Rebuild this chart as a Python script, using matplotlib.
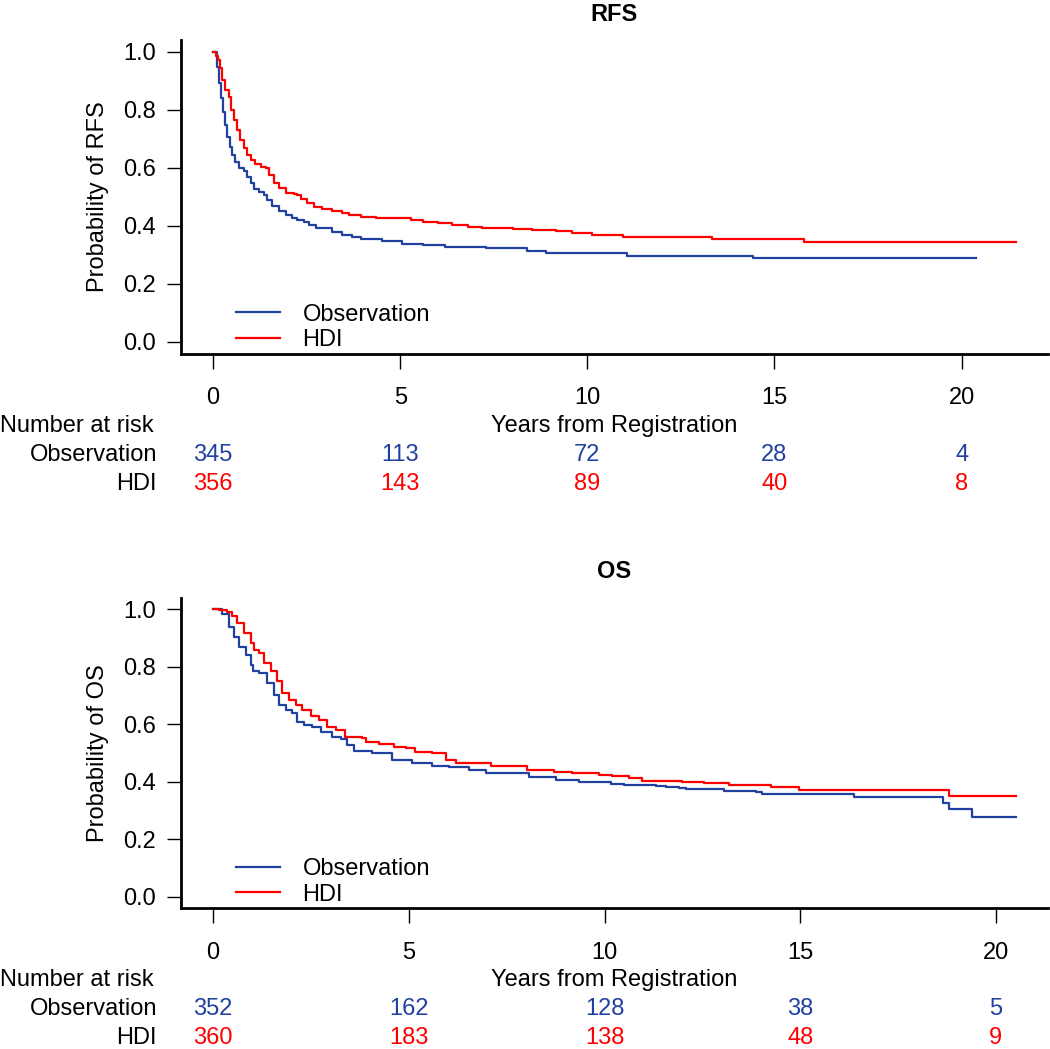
import matplotlib
matplotlib.use("Agg")
import matplotlib.pyplot as plt
import matplotlib.transforms as mtransforms

plt.rcParams['font.family'] = ['Liberation Sans', 'DejaVu Sans']

BLUE = "#2141A0"
RED = "#FF0000"

groups = ["Observation", "HDI"]
xticks = [0, 5, 10, 15, 20]
yticks = [0.0, 0.2, 0.4, 0.6, 0.8, 1.0]
ytick_labels = ["0.0", "0.2", "0.4", "0.6", "0.8", "1.0"]

# ---------- RFS ----------
rfs_obs_t = [0, 0.11, 0.17, 0.22, 0.27, 0.31, 0.37, 0.44, 0.51, 0.58, 0.69, 0.82, 0.91,
             1.0, 1.09, 1.22, 1.36, 1.44, 1.58, 1.76, 1.94, 2.11, 2.25, 2.43, 2.56, 2.74,
             3.18, 3.45, 3.72, 3.94, 4.5, 5.06, 5.6, 6.2, 7.3, 8.4, 8.9, 11.07, 14.43, 20.39]
rfs_obs_s = [1.0, 0.949, 0.892, 0.840, 0.794, 0.748, 0.708, 0.674, 0.645, 0.622, 0.599,
             0.591, 0.570, 0.547, 0.527, 0.518, 0.507, 0.490, 0.470, 0.453, 0.438, 0.426,
             0.421, 0.415, 0.403, 0.392, 0.380, 0.369, 0.361, 0.355, 0.349, 0.337, 0.333,
             0.328, 0.325, 0.315, 0.308, 0.298, 0.289, 0.289]
rfs_hdi_t = [0, 0.08, 0.13, 0.18, 0.24, 0.33, 0.42, 0.49, 0.55, 0.64, 0.73, 0.82, 0.91,
             1.0, 1.13, 1.27, 1.4, 1.49, 1.62, 1.76, 1.94, 2.16, 2.25, 2.34, 2.51, 2.69,
             2.91, 3.18, 3.45, 3.63, 3.94, 4.34, 5.3, 5.6, 6.0, 6.39, 6.8, 7.19, 8.0, 8.53,
             9.15, 9.6, 10.13, 10.94, 13.34, 15.78, 21.45]
rfs_hdi_s = [1.0, 0.986, 0.972, 0.944, 0.903, 0.869, 0.846, 0.80, 0.766, 0.731, 0.697,
             0.668, 0.645, 0.628, 0.614, 0.602, 0.599, 0.576, 0.547, 0.530, 0.515, 0.510,
             0.507, 0.492, 0.478, 0.467, 0.458, 0.453, 0.446, 0.438, 0.432, 0.427, 0.421,
             0.415, 0.410, 0.403, 0.398, 0.394, 0.390, 0.386, 0.383, 0.376, 0.369, 0.362,
             0.355, 0.346, 0.346]
rfs_risk_obs = [345, 113, 72, 28, 4]
rfs_risk_hdi = [356, 143, 89, 40, 8]

# ---------- OS ----------
os_obs_t = [0, 0.23, 0.40, 0.53, 0.66, 0.83, 0.96, 1.01, 1.17, 1.38, 1.55, 1.68, 1.85,
            2.02, 2.15, 2.32, 2.53, 2.75, 3.04, 3.26, 3.43, 3.6, 4.06, 4.58, 5.09, 5.6,
            6.03, 6.54, 6.96, 8.07, 8.75, 9.35, 10.16, 10.5, 11.31, 11.56, 11.9, 12.08,
            13.05, 13.87, 14.03, 16.38, 18.64, 18.81, 19.39, 20.51]
os_obs_s = [1.0, 0.984, 0.940, 0.905, 0.870, 0.841, 0.806, 0.785, 0.777, 0.743, 0.702,
            0.667, 0.650, 0.638, 0.609, 0.597, 0.592, 0.574, 0.557, 0.548, 0.528, 0.508,
            0.499, 0.476, 0.464, 0.456, 0.452, 0.441, 0.429, 0.418, 0.406, 0.399, 0.392,
            0.389, 0.385, 0.381, 0.377, 0.374, 0.369, 0.363, 0.356, 0.346, 0.327, 0.305,
            0.278, 0.278]
os_hdi_t = [0, 0.15, 0.36, 0.49, 0.61, 0.78, 0.96, 1.04, 1.17, 1.30, 1.47, 1.64, 1.76,
            1.94, 2.11, 2.28, 2.49, 2.7, 2.91, 3.13, 3.38, 3.81, 3.9, 4.24, 4.62, 4.92,
            5.17, 5.6, 5.94, 6.2, 6.79, 7.09, 8.03, 8.71, 9.18, 9.86, 10.2, 10.63, 10.97,
            11.99, 12.54, 13.18, 14.25, 14.97, 18.79, 20.51]
os_hdi_s = [1.0, 0.997, 0.991, 0.976, 0.953, 0.918, 0.883, 0.860, 0.849, 0.814, 0.785,
            0.750, 0.708, 0.685, 0.667, 0.650, 0.630, 0.615, 0.592, 0.580, 0.557, 0.551,
            0.539, 0.531, 0.522, 0.516, 0.505, 0.499, 0.476, 0.466, 0.464, 0.455, 0.441,
            0.435, 0.429, 0.422, 0.420, 0.412, 0.404, 0.398, 0.395, 0.390, 0.381, 0.371,
            0.351, 0.351]
os_risk_obs = [352, 162, 128, 38, 5]
os_risk_hdi = [360, 183, 138, 48, 9]

W, H = 1050, 1049
fig = plt.figure(figsize=(W / 100, H / 100), dpi=100)
FS = 17


def px_axes(left, top, right, bottom):
    return fig.add_axes([left / W, 1 - bottom / H, (right - left) / W, (bottom - top) / H])


def panel(top, bottom, title, ylab, obs_t, obs_s, hdi_t, hdi_s, risk_obs, risk_hdi, tmax,
          off):
    ax = px_axes(181, top, 1048, bottom)
    ax.step(obs_t, obs_s, where="post", color=BLUE, lw=1.6, label=groups[0])
    ax.step(hdi_t, hdi_s, where="post", color=RED, lw=1.6, label=groups[1])
    ax.set_xlim(-0.04 * tmax, 1.04 * tmax)
    ax.set_ylim(-0.04, 1.04)
    for s in ["top", "right"]:
        ax.spines[s].set_visible(False)
    for s in ["left", "bottom"]:
        ax.spines[s].set_linewidth(2.0)
    ax.set_xticks(xticks)
    ax.set_xticklabels([str(v) for v in xticks], fontsize=FS)
    ax.set_yticks(yticks)
    ax.set_yticklabels(ytick_labels, fontsize=FS)
    ax.tick_params(axis="y", length=10, width=1.0, pad=8)
    ax.tick_params(axis="x", length=11, width=1.0, pad=13)
    ax.set_ylabel(ylab, fontsize=FS, labelpad=10)
    ax.set_title(title, fontsize=FS, fontweight="bold", pad=14)
    ax.legend(loc="lower left", bbox_to_anchor=(0.063, 0.008), frameon=False,
              fontsize=FS, handlelength=1.9, handletextpad=0.93, labelspacing=0.15,
              borderaxespad=0, borderpad=0)
    tr = mtransforms.blended_transform_factory(ax.transData, fig.transFigure)
    yx = 1 - (426 + off) / H
    ax.text(0.5, yx, "Years from Registration", transform=mtransforms.blended_transform_factory(
        ax.transAxes, fig.transFigure), ha="center", va="center", fontsize=FS)
    fig.text(0.0, yx, "Number at risk", ha="left", va="center", fontsize=FS)
    y1 = 1 - (455 + off) / H
    y2 = 1 - (484 + off) / H
    fig.text(157 / W, y1, groups[0], ha="right", va="center", fontsize=FS)
    fig.text(157 / W, y2, groups[1], ha="right", va="center", fontsize=FS)
    for xv, a, b in zip(xticks, risk_obs, risk_hdi):
        ax.text(xv, y1, str(a), transform=tr, ha="center", va="center", fontsize=FS,
                color=BLUE, clip_on=False)
        ax.text(xv, y2, str(b), transform=tr, ha="center", va="center", fontsize=FS,
                color=RED, clip_on=False)
    return ax


panel(40.4, 353.6, "RFS", "Probability of RFS", rfs_obs_t, rfs_obs_s, rfs_hdi_t, rfs_hdi_s,
      rfs_risk_obs, rfs_risk_hdi, 21.45, 0)
panel(597.8, 908.2, "OS", "Probability of OS", os_obs_t, os_obs_s, os_hdi_t, os_hdi_s,
      os_risk_obs, os_risk_hdi, 20.51, 554)

fig.savefig("out.png", dpi=100)
